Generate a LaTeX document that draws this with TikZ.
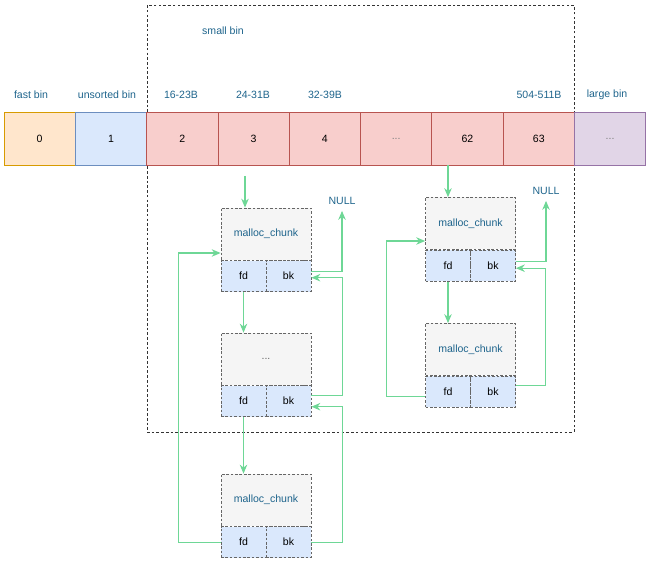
\documentclass[tikz,border=0pt]{standalone}
\usepackage{fontspec}
\setmainfont{Liberation Sans}
\definecolor{BinRed}{RGB}{248, 206, 204}
\definecolor{BinRedLine}{RGB}{184, 84, 80}
\definecolor{BinOrange}{RGB}{255, 230, 204}
\definecolor{BinOrangeLine}{RGB}{215, 155, 0}
\definecolor{BinBlue}{RGB}{218, 232, 252}
\definecolor{BinBlueLine}{RGB}{108, 142, 191}
\definecolor{BinPurple}{RGB}{225, 213, 231}
\definecolor{BinPurpleLine}{RGB}{150, 115, 166}
\definecolor{LabBlue}{RGB}{30, 100, 140}
\definecolor{LinkGreen}{RGB}{110, 215, 150}
\usetikzlibrary{arrows.meta, positioning}

\begin{document}
\begin{tikzpicture}[
  cell/.style={draw=BinRedLine, fill=BinRed, font=\fontsize{6}{7}\selectfont, minimum width=1.426cm, minimum height=1.06cm, inner sep=0pt},
  lab/.style={font=\fontsize{6}{7}\selectfont, text=LabBlue},
  chunk/.style={draw=black!60, dash pattern=on 1.5pt off 1pt, fill=black!4, font=\fontsize{6}{7}\selectfont, text=LabBlue, minimum width=1.8cm, minimum height=1.04cm, inner sep=0pt},
  ptr/.style={draw=black!60, dash pattern=on 1.5pt off 1pt, fill=BinBlue, font=\fontsize{6}{7}\selectfont, minimum width=0.9cm, minimum height=0.62cm, inner sep=0pt},
  link/.style={-{Stealth[length=1.8mm, width=1.5mm]}, LinkGreen, line width=0.65pt}]
\useasboundingbox (0, 0) rectangle (13, -11.3);
\node[draw=black!80, dash pattern=on 1.5pt off 1.2pt, minimum width=8.54cm, minimum height=8.54cm, inner sep=0pt] (small) at (7.21, -4.37) {};
\node[lab] at (4.46, -0.62) {small bin};
\node[lab] at (0.62, -1.9) {fast bin};
\node[lab] at (2.14, -1.9) {unsorted bin};
\node[lab] at (3.62, -1.9) {16-23B};
\node[lab] at (5.06, -1.9) {24-31B};
\node[lab] at (6.5, -1.9) {32-39B};
\node[lab] at (10.78, -1.9) {504-511B};
\node[lab] at (12.14, -1.9) {large bin};
\node[cell, draw=BinOrangeLine, fill=BinOrange] (c0) at (0.793, -2.77) {0};
\node[cell, draw=BinBlueLine, fill=BinBlue] (c1) at (2.219, -2.77) {1};
\node[cell] (c2) at (3.645, -2.77) {2};
\node[cell] (c3) at (5.071, -2.77) {3};
\node[cell] (c4) at (6.497, -2.77) {4};
\node[cell, text=black!50] (cdots) at (7.923, -2.77) {...};
\node[cell] (c62) at (9.349, -2.77) {62};
\node[cell] (c63) at (10.775, -2.77) {63};
\node[cell, draw=BinPurpleLine, fill=BinPurple, text=black!50] (clarge) at (12.201, -2.77) {...};
% chain of bin 3
\node[chunk] (h1) at (5.32, -4.68) {malloc\_chunk};
\node[ptr, anchor=north west] (fd1) at (h1.south west) {fd};
\node[ptr, anchor=north east] (bk1) at (h1.south east) {bk};
\node[chunk, text=black!60] (h2) at (5.32, -7.18) {...};
\node[ptr, anchor=north west] (fd2) at (h2.south west) {fd};
\node[ptr, anchor=north east] (bk2) at (h2.south east) {bk};
\node[chunk] (h3) at (5.32, -10.0) {malloc\_chunk};
\node[ptr, anchor=north west] (fd3) at (h3.south west) {fd};
\node[ptr, anchor=north east] (bk3) at (h3.south east) {bk};
\node[lab] (null1) at (6.84, -4.02) {NULL};
% chain of bin 62
\node[chunk] (hA) at (9.41, -4.47) {malloc\_chunk};
\node[ptr, anchor=north west] (fdA) at (hA.south west) {fd};
\node[ptr, anchor=north east] (bkA) at (hA.south east) {bk};
\node[chunk] (hB) at (9.41, -6.99) {malloc\_chunk};
\node[ptr, anchor=north west] (fdB) at (hB.south west) {fd};
\node[ptr, anchor=north east] (bkB) at (hB.south east) {bk};
\node[lab] (null2) at (10.92, -3.82) {NULL};
\coordinate (start3) at (4.9, -3.52);
\draw[link] (start3) -- (start3 |- h1.north);
\draw[link] ([yshift=0.09cm]bk1.east) -| (null1.south);
\draw[link] (fd1.south) -- (fd1.south |- h2.north);
\draw[link] ([yshift=0.11cm]bk2.east) -- ++(0.62, 0) |- ([yshift=-0.03cm]bk1.east);
\draw[link] (fd2.south) -- (fd2.south |- h3.north);
\draw[link] (bk3.east) -- ++(0.62, 0) |- ([yshift=-0.11cm]bk2.east);
\draw[link] (fd3.west) -- ++(-0.84, 0) |- ([yshift=-0.38cm]h1.west);
\draw[link] (fdA |- c62.south) -- (fdA |- hA.north);
\draw[link] ([yshift=0.09cm]bkA.east) -| (null2.south);
\draw[link] (fdA.south) -- (fdA.south |- hB.north);
\draw[link] ([yshift=0.13cm]bkB.east) -- ++(0.6, 0) |- ([yshift=-0.05cm]bkA.east);
\draw[link] ([yshift=-0.09cm]fdB.west) -- ++(-0.78, 0) |- ([yshift=-0.35cm]hA.west);
\end{tikzpicture}
\end{document}
